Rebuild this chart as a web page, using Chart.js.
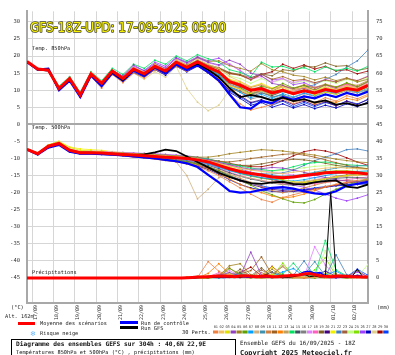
<!DOCTYPE html>
<html lang="fr">
<head>
<meta charset="UTF-8">
<title>GEFS 18Z - 40,6N 22,9E</title>
<script src="https://cdn.jsdelivr.net/npm/chart.js"></script>
<style>
    body { margin: 0; background: #ffffff; }
    #wrap { width: 395px; height: 355px; }
</style>
</head>
<body>
<div id="wrap"><canvas id="chart" width="395" height="355"></canvas></div>
<script>
// time axis (hours after 16/09 18Z)
const HOURS_12 = [0,12,24,36,48,60,72,84,96,108,120,132,144,156,168,180,192,204,216,228,240,252,264,276,288,300,312,324,336,348,360,372,384];
const HOURS_6 = [0,6,12,18,24,30,36,42,48,54,60,66,72,78,84,90,96,102,108,114,120,126,132,138,144,150,156,162,168,174,180,186,192,198,204,210,216,222,228,234,240,246,252,258,264,270,276,282,288,294,300,306,312,318,324,330,336,342,348,354,360,366,372,378,384];
const HOURS_RR = [168,180,192,204,216,228,240,252,264,276,288,300,312,324,336,348,360,372,384];
const DAY_HOURS = [6,30,54,78,102,126,150,174,198,222,246,270,294,318,342,366];
const DAY_LABELS = ['17/09','18/09','19/09','20/09','21/09','22/09','23/09','24/09','25/09','26/09','27/09','28/09','29/09','30/09','01/10','02/10'];
const LEFT_TICKS = [30,25,20,15,10,5,0,-5,-10,-15,-20,-25,-30,-35,-40,-45];
const RIGHT_TICKS = [75,70,65,60,55,50,45,40,35,30,25,20,15,10,5,0];

const MEMBER_COLORS = ['#f08040','#f0c060','#e0e000','#9040c0','#a08020','#60a000','#00a0ff','#d0b080','#4090b0','#d08040',
    '#a06020','#ff8000','#c0a060','#00e060','#405060','#808080','#e080ff','#ff60c0','#806020','#400080',
    '#f0f000','#4080c0','#a06040','#c0ff80','#80e000','#a040ff','#0000c0','#e0d090','#a00000','#0040ff'];

// Temp. 850hPa (°C)
const T850_MEAN = [18.4,16.2,15.9,10.5,13.4,8.6,14.8,12.0,15.6,13.4,16.2,14.8,17.0,15.6,18.2,16.7,18.3,16.7,15.4,12.5,11.5,10.0,10.5,9.2,10.0,9.0,9.8,9.2,10.2,9.6,10.5,10.0,11.4];
const T850_CTRL = [18.2,16.0,16.3,10.0,12.8,8.0,14.3,11.2,15.0,12.8,15.8,14.2,16.6,14.9,17.5,15.9,17.4,15.3,12.8,8.8,5.0,4.6,6.8,6.2,8.0,7.2,8.2,7.6,8.8,8.0,9.2,8.4,9.6];
const T850_GFS = [18.3,16.1,16.0,10.3,13.2,8.4,14.6,11.8,15.3,13.0,16.0,14.6,16.8,15.4,18.0,16.5,17.8,16.0,13.8,10.6,8.0,8.6,8.0,7.0,7.8,6.8,7.4,6.4,7.0,5.8,6.2,5.4,6.2];
const T850_MEMBERS = [
    [18.3,16.0,15.6,10.0,13.0,8.0,14.0,10.6,14.6,12.2,15.0,13.6,16.0,14.8,17.0,15.6,17.5,15.0,12.5,9.0,6.0,4.2,5.0,5.8,7.5,6.0,7.2,6.4,7.8,6.8,8.4,7.5,8.8],
    [18.5,16.4,16.2,11.0,13.8,9.2,15.2,12.6,15.9,13.8,16.6,15.2,17.5,16.0,18.8,17.2,19.0,17.6,16.4,14.0,12.6,11.0,11.8,10.2,11.0,10.0,10.8,9.8,10.6,10.0,11.2,10.4,12.0],
    [18.4,16.1,16.0,10.8,13.6,8.8,15.0,12.2,15.4,13.0,16.4,14.6,17.6,15.4,18.6,16.0,18.0,15.8,13.8,11.2,10.4,9.0,10.6,9.4,11.0,9.2,10.0,8.6,9.4,8.8,10.2,9.6,10.8],
    [18.4,16.3,16.1,10.2,13.2,8.4,14.6,11.8,15.8,14.2,17.4,15.6,17.8,16.4,19.4,18.0,19.6,18.2,17.4,18.8,17.6,15.0,14.2,12.0,11.4,10.2,10.6,9.4,10.0,9.2,10.4,9.8,11.0],
    [18.5,16.2,15.8,10.6,13.4,8.6,14.8,12.4,15.6,13.6,16.0,14.8,17.2,15.8,18.8,17.4,19.6,18.4,18.6,17.2,16.4,15.6,17.8,16.0,15.4,14.4,14.0,13.0,13.8,12.8,13.6,12.4,13.2],
    [18.4,16.0,15.9,10.4,13.3,8.2,14.4,11.6,15.2,13.2,16.0,14.4,16.6,15.0,17.6,16.0,17.8,16.2,15.0,12.2,11.0,9.6,11.2,10.4,12.0,10.6,11.4,10.0,11.6,10.8,12.2,11.0,12.6],
    [18.4,16.2,16.0,10.6,13.6,8.8,15.0,12.2,15.8,13.6,16.2,14.8,17.0,15.6,18.0,16.4,18.2,16.4,14.6,11.0,9.4,7.8,8.8,7.6,9.0,8.0,9.2,8.4,9.8,9.0,10.2,9.4,10.6],
    [18.3,16.1,15.7,10.4,13.2,8.5,14.5,11.9,15.3,13.1,15.9,14.3,16.5,15.1,17.4,15.8,17.6,15.6,14.0,11.6,10.2,8.4,9.6,8.8,10.4,9.4,10.6,9.6,10.8,10.0,11.0,10.4,11.8],
    [18.4,16.3,16.0,10.7,13.5,8.7,14.9,12.1,15.7,13.5,16.3,14.9,17.1,15.7,18.3,16.8,18.5,16.9,15.6,12.4,10.8,9.0,9.4,8.0,8.6,7.4,8.2,7.6,8.6,8.0,9.2,8.6,10.0],
    [18.4,16.2,16.0,10.5,13.4,8.6,14.8,12.0,15.6,13.4,16.2,14.8,17.0,15.6,18.2,16.7,18.3,16.5,15.4,13.0,12.0,10.8,11.6,10.4,11.2,10.6,11.6,10.8,11.8,11.0,12.0,11.4,12.8],
    [18.5,16.3,16.1,10.9,13.7,9.0,15.1,12.4,15.9,13.8,16.5,15.1,17.4,16.0,18.6,17.0,18.7,17.2,16.2,14.8,14.4,13.0,14.6,13.2,14.0,12.8,13.2,12.2,13.0,12.4,13.4,12.8,14.0],
    [18.3,16.0,15.7,10.2,13.1,8.3,14.5,11.4,15.2,12.8,15.6,14.0,16.4,14.8,17.6,16.0,17.6,15.6,13.4,10.4,9.6,8.6,10.0,8.0,8.8,6.6,7.4,6.0,7.0,6.4,7.6,7.0,8.4],
    [18.4,16.2,15.9,10.6,13.4,8.7,14.8,12.1,15.5,13.3,16.1,14.7,16.9,15.5,18.0,16.6,18.1,16.6,15.2,12.8,11.8,10.4,11.0,9.6,10.2,9.2,10.0,9.4,10.4,9.8,10.8,10.2,11.4],
    [18.5,16.4,16.3,11.2,14.0,9.4,15.4,12.8,16.4,14.6,17.6,16.4,18.8,17.6,20.0,18.6,20.4,19.2,18.2,16.0,15.2,14.0,18.2,16.8,17.0,16.0,16.6,15.4,16.8,15.8,16.4,15.6,17.0],
    [18.4,16.1,15.8,10.3,13.2,8.4,14.6,11.8,15.4,13.2,16.0,14.6,16.8,15.4,18.0,16.4,18.0,16.0,14.2,11.0,9.8,8.2,9.2,8.4,9.6,8.8,9.8,9.0,10.0,9.4,10.4,9.8,11.0],
    [18.4,16.2,15.9,10.5,13.4,8.6,14.8,12.0,15.6,13.4,16.2,14.8,17.0,15.6,18.2,16.7,18.3,16.4,14.4,10.8,9.4,7.4,8.2,7.2,8.4,7.8,9.0,8.2,9.4,8.8,9.8,9.2,10.2],
    [18.5,16.3,16.1,10.8,13.6,8.8,15.0,12.3,15.8,13.7,16.8,15.4,17.8,16.6,19.2,17.8,19.4,18.0,17.2,17.8,15.6,13.2,14.0,12.4,13.4,12.2,13.0,12.0,13.2,12.4,13.6,12.8,14.2],
    [18.4,16.2,15.9,10.5,13.4,8.6,14.8,12.0,15.6,13.4,16.0,14.6,16.8,15.4,18.0,16.4,17.8,15.8,14.0,11.4,10.6,9.2,10.2,9.0,10.2,9.6,10.8,10.2,11.4,10.6,11.6,10.8,12.2],
    [18.4,16.2,16.0,10.7,13.5,8.8,15.0,12.2,15.8,13.6,16.4,15.0,17.4,16.0,18.6,17.2,18.8,17.4,16.6,15.2,14.6,13.6,14.8,14.2,16.0,15.6,17.0,16.8,18.0,17.0,17.2,15.8,16.4],
    [18.3,16.0,15.6,10.1,13.0,8.2,14.3,11.5,15.0,12.8,15.6,14.2,16.4,15.0,17.4,15.8,17.2,15.0,13.0,10.0,8.4,6.4,7.2,6.0,7.0,5.8,6.8,5.6,6.6,5.4,6.8,5.8,7.4],
    [18.4,16.2,15.9,10.5,13.5,8.7,14.9,12.1,15.7,13.5,16.3,15.0,17.2,15.8,18.4,16.9,18.6,16.9,15.6,13.2,12.4,11.0,12.0,10.6,11.6,10.2,11.0,10.0,11.0,10.2,11.4,10.6,11.8],
    [18.4,16.1,15.8,10.4,13.3,8.5,14.7,11.9,15.5,13.2,15.8,14.4,16.6,15.2,17.6,16.0,17.8,16.0,14.6,11.8,10.6,9.0,10.0,8.8,10.0,9.4,10.8,11.6,13.2,14.6,16.8,18.6,21.8],
    [18.4,16.2,15.9,10.5,13.4,8.6,14.8,12.0,15.6,13.4,16.1,14.7,16.9,15.5,18.1,16.6,18.2,16.6,15.4,12.6,11.4,10.0,10.6,9.8,11.2,10.4,11.4,10.6,11.6,10.8,11.8,11.0,12.4],
    [18.5,16.3,16.1,10.8,13.6,8.9,15.1,12.3,15.9,13.7,16.5,15.1,17.4,16.0,18.6,17.1,18.7,17.1,16.2,14.2,13.4,12.0,13.4,12.2,13.2,12.0,12.8,11.8,12.8,12.0,13.2,12.4,13.6],
    [18.4,16.2,15.9,10.6,13.4,8.7,14.8,12.1,15.6,13.4,16.2,14.8,17.0,15.6,18.2,16.7,18.2,16.4,14.8,11.6,10.4,8.8,9.8,8.6,9.8,9.0,10.2,9.4,10.6,9.8,10.8,10.2,11.2],
    [18.5,16.4,16.2,11.0,13.8,9.2,15.2,12.6,16.0,14.0,17.0,15.8,18.2,17.0,19.6,18.2,19.8,18.6,19.4,17.6,15.8,13.6,14.8,13.0,13.4,11.6,12.2,10.8,11.6,10.4,11.2,10.0,10.8],
    [18.3,16.0,15.6,10.0,13.0,8.0,14.2,11.4,14.8,12.6,15.2,13.8,16.0,14.4,17.0,15.4,17.0,15.0,12.8,9.4,7.6,5.6,6.4,5.0,6.0,4.8,5.8,4.6,5.6,4.8,6.0,5.2,6.6],
    [18.4,16.1,15.8,10.4,13.2,8.3,14.4,11.4,14.6,12.4,15.0,13.2,15.4,13.8,17.0,10.5,6.5,4.0,5.6,10.0,10.6,9.0,10.0,8.8,10.0,9.0,9.8,9.2,10.2,9.6,10.4,9.8,11.0],
    [18.4,16.2,16.0,10.6,13.5,8.8,15.0,12.2,15.8,13.6,16.4,15.0,17.2,15.8,18.4,17.0,18.6,17.0,16.4,15.0,14.4,13.2,14.6,15.4,17.6,16.4,17.4,16.2,17.0,15.6,16.0,14.8,15.6],
    [18.3,16.0,15.7,10.2,13.1,8.3,14.5,11.6,15.2,13.0,15.6,14.0,16.2,14.8,17.2,15.6,17.2,15.4,13.2,9.8,8.0,6.2,7.0,5.6,6.8,5.2,6.4,5.2,6.4,5.6,6.8,6.0,7.2]
];

// Temp. 500hPa (°C)
const T500_MEAN = [-7.3,-8.6,-6.4,-5.6,-7.6,-8.3,-8.3,-8.4,-8.6,-8.8,-9.0,-9.2,-9.4,-9.6,-9.8,-10.0,-10.4,-11.0,-12.0,-13.0,-13.8,-14.4,-14.8,-15.4,-15.6,-15.4,-15.0,-14.6,-14.2,-14.0,-14.0,-14.2,-14.5];
const T500_CTRL = [-7.4,-8.8,-6.8,-6.0,-8.0,-8.6,-8.6,-8.7,-8.9,-9.1,-9.4,-9.7,-10.0,-10.4,-10.8,-11.4,-12.5,-14.8,-17.0,-19.5,-20.0,-19.8,-19.2,-18.6,-18.4,-18.8,-19.6,-20.2,-20.5,-19.6,-18.0,-17.4,-16.8];
const T500_GFS = [-7.3,-8.6,-6.4,-5.6,-7.6,-8.3,-8.3,-8.4,-8.6,-8.8,-9.0,-8.8,-8.2,-7.4,-7.8,-9.4,-11.0,-12.6,-14.2,-15.4,-16.4,-17.2,-17.4,-17.0,-16.8,-17.4,-17.6,-17.0,-16.6,-16.4,-18.2,-18.6,-17.6];
const T500_MEMBERS = [
    [-7.4,-8.8,-6.6,-5.8,-7.8,-8.6,-8.6,-8.8,-9.0,-9.2,-9.6,-9.8,-10.2,-10.6,-11.0,-11.6,-12.4,-13.6,-15.0,-16.8,-18.6,-20.4,-22.0,-22.8,-21.4,-20.6,-19.8,-19.0,-18.2,-17.6,-17.0,-16.4,-16.0],
    [-7.2,-8.4,-6.2,-5.2,-7.2,-8.0,-8.0,-8.1,-8.3,-8.5,-8.7,-8.8,-9.0,-9.2,-9.4,-9.6,-10.0,-10.6,-11.4,-12.2,-12.8,-13.4,-13.8,-14.2,-14.4,-14.0,-13.6,-13.2,-12.8,-12.6,-12.8,-13.0,-13.2],
    [-7.3,-8.5,-6.0,-5.0,-6.8,-7.6,-7.8,-8.0,-8.4,-8.6,-8.8,-9.0,-9.2,-9.4,-9.6,-9.8,-10.2,-10.8,-11.6,-12.6,-13.4,-14.2,-14.8,-15.6,-16.2,-16.8,-17.0,-16.6,-16.0,-15.4,-15.0,-14.8,-14.6],
    [-7.3,-8.7,-6.5,-5.7,-7.7,-8.4,-8.4,-8.5,-8.7,-8.9,-9.1,-9.3,-9.4,-9.5,-9.6,-9.8,-10.0,-10.4,-11.2,-11.8,-12.6,-13.2,-13.0,-12.6,-12.8,-13.4,-14.0,-14.8,-15.6,-16.2,-16.6,-16.8,-17.0],
    [-7.2,-8.6,-6.4,-5.6,-7.5,-8.2,-8.1,-8.2,-8.3,-8.4,-8.5,-8.6,-8.8,-9.0,-9.2,-9.4,-9.6,-9.6,-9.2,-8.6,-8.2,-7.8,-7.4,-7.6,-7.8,-8.2,-8.6,-9.0,-9.6,-10.2,-10.6,-11.0,-11.2],
    [-7.3,-8.6,-6.4,-5.6,-7.6,-8.3,-8.3,-8.5,-8.8,-9.0,-9.3,-9.6,-9.9,-10.2,-10.6,-11.0,-11.6,-12.4,-13.6,-15.0,-16.4,-17.8,-19.4,-20.6,-21.8,-22.8,-23.0,-22.0,-20.4,-19.0,-17.8,-16.8,-16.0],
    [-7.4,-8.7,-6.6,-5.8,-7.8,-8.5,-8.5,-8.6,-8.8,-9.0,-9.2,-9.4,-9.6,-9.8,-10.0,-10.3,-10.8,-11.6,-12.6,-13.6,-14.4,-15.0,-15.6,-16.0,-16.4,-16.6,-16.2,-15.6,-15.0,-14.4,-14.0,-13.8,-13.6],
    [-7.3,-8.6,-6.4,-5.6,-7.6,-8.3,-8.3,-8.4,-8.6,-8.8,-9.0,-9.2,-9.6,-10.0,-11.0,-15.0,-21.8,-19.0,-15.6,-14.8,-15.2,-15.8,-16.4,-17.0,-17.6,-17.2,-16.6,-16.2,-15.8,-15.4,-15.2,-15.0,-14.8],
    [-7.3,-8.5,-6.3,-5.5,-7.5,-8.2,-8.2,-8.3,-8.5,-8.7,-8.9,-9.1,-9.3,-9.5,-9.7,-9.9,-10.2,-10.8,-11.8,-12.8,-13.6,-14.2,-14.6,-15.0,-15.2,-15.0,-14.6,-14.0,-13.4,-12.8,-12.4,-12.2,-12.0],
    [-7.4,-8.8,-6.8,-6.0,-8.0,-8.6,-8.6,-8.7,-8.9,-9.1,-9.4,-9.7,-10.0,-10.3,-10.6,-11.0,-11.6,-12.4,-13.4,-14.6,-15.8,-17.0,-18.2,-19.4,-20.0,-19.4,-18.6,-17.8,-17.0,-16.6,-16.4,-16.6,-17.0],
    [-7.2,-8.4,-6.2,-5.4,-7.4,-8.1,-8.1,-8.2,-8.4,-8.6,-8.8,-9.0,-9.2,-9.4,-9.6,-9.8,-10.0,-10.4,-10.8,-11.0,-10.6,-10.0,-9.6,-9.2,-8.8,-8.6,-9.0,-9.6,-10.4,-11.2,-12.0,-12.6,-13.0],
    [-7.3,-8.6,-6.4,-5.6,-7.6,-8.3,-8.4,-8.5,-8.7,-8.9,-9.2,-9.5,-9.8,-10.2,-10.6,-11.2,-12.0,-13.0,-14.4,-16.0,-17.6,-18.8,-20.0,-21.0,-21.6,-21.2,-20.4,-19.4,-18.4,-17.6,-17.0,-16.8,-16.6],
    [-7.3,-8.6,-6.5,-5.7,-7.7,-8.4,-8.4,-8.5,-8.7,-8.9,-9.1,-9.3,-9.5,-9.7,-9.9,-10.1,-10.5,-11.1,-12.1,-13.1,-13.9,-14.5,-14.9,-15.5,-15.7,-15.5,-15.1,-14.7,-14.3,-14.1,-14.1,-14.3,-14.6],
    [-7.2,-8.5,-6.3,-5.5,-7.4,-8.1,-8.1,-8.2,-8.4,-8.5,-8.7,-8.8,-9.0,-9.1,-9.3,-9.4,-9.7,-10.2,-10.8,-11.6,-12.2,-12.8,-13.2,-13.6,-13.2,-12.4,-11.6,-11.2,-11.0,-11.4,-11.8,-12.0,-12.2],
    [-7.3,-8.7,-6.5,-5.7,-7.7,-8.4,-8.4,-8.6,-8.8,-9.0,-9.3,-9.6,-9.9,-10.2,-10.5,-10.8,-11.3,-12.0,-13.0,-14.2,-15.2,-16.0,-16.6,-17.2,-17.6,-17.8,-17.4,-16.8,-16.2,-15.8,-15.6,-15.6,-15.8],
    [-7.3,-8.6,-6.4,-5.6,-7.6,-8.3,-8.3,-8.4,-8.6,-8.8,-9.0,-9.2,-9.4,-9.6,-9.8,-10.0,-10.3,-10.9,-11.9,-12.9,-13.7,-14.3,-14.7,-15.3,-15.5,-15.3,-14.9,-14.5,-14.1,-13.9,-13.9,-14.1,-14.4],
    [-7.2,-8.4,-6.1,-5.2,-7.2,-7.9,-7.8,-7.9,-8.1,-8.2,-8.4,-8.6,-8.8,-9.0,-9.2,-9.4,-9.8,-10.4,-11.2,-12.0,-12.6,-13.2,-13.6,-14.0,-14.4,-14.8,-15.2,-15.6,-15.8,-15.6,-15.2,-14.8,-14.4],
    [-7.4,-8.8,-6.7,-5.9,-7.9,-8.6,-8.6,-8.7,-8.9,-9.1,-9.3,-9.5,-9.7,-9.9,-10.1,-10.4,-10.9,-11.6,-12.8,-14.0,-15.0,-15.8,-16.4,-17.0,-17.4,-17.6,-17.6,-17.4,-17.0,-16.6,-16.2,-15.8,-15.4],
    [-7.3,-8.6,-6.4,-5.6,-7.6,-8.3,-8.3,-8.4,-8.6,-8.8,-9.0,-9.2,-9.4,-9.6,-9.8,-10.0,-10.3,-10.8,-11.4,-11.8,-12.0,-12.0,-11.6,-11.0,-10.6,-10.2,-10.4,-10.8,-11.4,-12.0,-12.4,-12.8,-13.0],
    [-7.4,-8.8,-6.8,-6.0,-8.0,-8.7,-8.7,-8.8,-9.0,-9.2,-9.5,-9.8,-10.1,-10.5,-10.9,-11.4,-12.0,-12.8,-14.0,-15.4,-16.6,-17.6,-18.4,-19.0,-19.4,-19.6,-19.4,-19.0,-18.4,-17.8,-17.2,-16.8,-16.4],
    [-7.1,-8.3,-6.0,-5.0,-6.6,-7.2,-7.4,-7.6,-8.0,-8.3,-8.6,-8.9,-9.2,-9.5,-9.8,-10.1,-10.5,-11.1,-12.0,-13.0,-13.8,-14.4,-14.8,-15.2,-15.4,-15.2,-14.8,-14.4,-14.0,-13.8,-13.8,-14.0,-14.2],
    [-7.3,-8.6,-6.4,-5.6,-7.6,-8.3,-8.3,-8.5,-8.7,-8.9,-9.1,-9.4,-9.7,-10.0,-10.3,-10.6,-11.0,-11.6,-12.4,-13.2,-13.8,-14.2,-14.4,-14.6,-14.2,-13.4,-12.0,-10.6,-9.6,-8.6,-7.4,-7.2,-7.8],
    [-7.3,-8.7,-6.6,-5.8,-7.8,-8.5,-8.5,-8.6,-8.8,-9.0,-9.2,-9.4,-9.6,-9.8,-10.0,-10.3,-10.8,-11.4,-12.4,-13.4,-14.2,-15.0,-15.6,-16.2,-16.8,-17.2,-17.0,-16.4,-15.8,-15.2,-14.8,-14.6,-14.4],
    [-7.2,-8.5,-6.3,-5.5,-7.5,-8.2,-8.2,-8.3,-8.5,-8.7,-8.9,-9.1,-9.3,-9.5,-9.7,-9.9,-10.2,-10.7,-11.5,-12.3,-12.9,-13.3,-13.5,-13.7,-13.5,-13.1,-12.7,-12.3,-12.1,-12.1,-12.3,-12.6,-12.9],
    [-7.3,-8.6,-6.4,-5.6,-7.6,-8.3,-8.3,-8.4,-8.6,-8.8,-9.0,-9.2,-9.4,-9.6,-9.8,-10.0,-10.4,-11.0,-12.2,-13.4,-14.4,-15.2,-15.8,-16.2,-16.0,-15.4,-14.8,-14.2,-13.8,-13.6,-13.6,-13.8,-14.0],
    [-7.2,-8.4,-6.2,-5.4,-7.4,-8.1,-8.0,-8.0,-8.2,-8.3,-8.4,-8.5,-8.6,-8.8,-9.0,-9.2,-9.6,-10.2,-11.0,-12.0,-13.0,-14.0,-15.0,-16.0,-17.0,-17.8,-18.4,-19.2,-20.4,-21.6,-22.4,-21.6,-20.6],
    [-7.4,-8.8,-6.7,-5.9,-7.9,-8.6,-8.6,-8.7,-8.9,-9.1,-9.4,-9.7,-10.0,-10.4,-10.8,-11.4,-12.2,-13.2,-14.6,-16.2,-17.6,-18.6,-19.2,-19.6,-19.8,-19.6,-19.2,-18.8,-18.4,-18.0,-17.8,-17.6,-17.4],
    [-7.3,-8.6,-6.4,-5.6,-7.6,-8.3,-8.3,-8.4,-8.6,-8.8,-9.0,-9.2,-9.4,-9.6,-9.8,-10.0,-10.3,-10.9,-11.9,-12.9,-13.7,-14.3,-14.7,-15.3,-15.5,-15.3,-14.9,-14.5,-14.1,-13.9,-13.9,-14.1,-14.4],
    [-7.3,-8.6,-6.4,-5.6,-7.6,-8.3,-8.3,-8.4,-8.6,-8.8,-9.0,-9.2,-9.3,-9.4,-9.5,-9.6,-9.8,-10.2,-10.8,-11.4,-12.0,-12.4,-12.4,-11.8,-10.6,-9.2,-8.0,-7.4,-7.8,-8.6,-9.8,-11.0,-12.0],
    [-7.4,-8.7,-6.6,-5.8,-7.8,-8.5,-8.5,-8.6,-8.8,-9.0,-9.3,-9.6,-9.9,-10.2,-10.6,-11.0,-11.6,-12.4,-13.6,-15.0,-16.2,-17.2,-18.0,-18.6,-19.0,-19.2,-19.0,-18.6,-18.2,-17.8,-17.6,-17.4,-17.2]
];

// Précipitations (mm), 6h steps for mean / control / GFS
const RR_MEAN = [0,0,0,0,0,0,0,0,0,0,0,0,0,0,0,0,0,0,0,0,0,0,0,0,0,0,0,0,0,0,
    0.1,0.2,0.3,0.3,0.4,0.5,0.5,0.6,0.5,0.4,0.6,0.7,0.5,0.4,0.5,0.6,0.4,0.4,0.6,0.7,0.8,0.9,1.2,1.3,1.0,0.7,0.5,0.4,0.5,0.6,0.5,0.4,0.4,0.3,0.3];
const RR_CTRL = [0,0,0,0,0,0,0,0,0,0,0,0,0,0,0,0,0,0,0,0,0,0,0,0,0,0,0,0,0,0,
    0,0.1,0.2,0.3,0.2,0.4,0.3,0.2,0.3,0.5,0.4,0.3,0.2,0.3,0.4,0.3,0.2,0.3,0.4,0.5,0.6,1.0,1.8,2.0,1.4,1.6,0.6,0.4,0.3,0.4,0.2,0.3,0.8,0.4,0.2];
const RR_GFS = [0,0,0,0,0,0,0,0,0,0,0,0,0,0,0,0,0,0,0,0,0,0,0,0,0,0,0,0,0,0,
    0,0,0.1,0.2,0.1,0.3,0.2,0.4,0.2,0.3,0.2,0.6,0.4,0.2,0.6,1.0,0.4,0.2,0.3,0.2,0.4,0.8,1.2,0.4,0.6,0.3,0.4,25.0,0.6,0.3,0.2,0.4,2.6,0.4,0.3];
// members, 12h steps from 23/09 18Z
const RR_MEMBERS = [
    [0,0,0.2,4.8,2.0,0.4,0.8,0.2,0,0.3,0.6,0.2,0,0.4,0.8,0.3,0.2,0.4,0.2],
    [0,0,0,0.3,0.6,1.2,0.4,0.2,0,0,0.3,0.8,0.4,0.2,0,0.6,0.2,0,0.1],
    [0,0.2,0,0,0.3,0.8,0.2,0,0.4,1.0,0.3,0,0.2,0.6,1.4,0.4,0,0.3,0.2],
    [0,0,0.3,0.2,0.8,1.6,0.6,7.6,0.8,0.4,0.2,0,0.3,0.5,0.2,0,0.4,0.2,0.1],
    [0,0,0,0.2,0.5,3.6,4.2,1.0,0.3,2.6,0.4,0.2,0,0.3,0,0.2,0.6,0.2,0],
    [0,0,0.2,0,0.4,2.8,1.2,0.3,0,0.2,0.8,0.4,0.2,0,0.5,0.3,0,0.2,0.1],
    [0,0.1,0,0.3,0.2,0.6,1.4,0.4,0.2,0.6,1.8,2.8,0.6,0.2,1.0,2.0,0.4,0.2,0.1],
    [0,0,0,0.2,0.8,0.4,1.0,0.2,0.6,1.2,3.6,0.8,0.4,0.2,0.4,0.8,0.3,0.2,0.1],
    [0,0,0.4,0.2,0,0.3,0.6,0.2,0,0.4,0.3,0.6,1.0,4.8,0.6,0.2,0.4,0.3,0.2],
    [0,0,0,0.3,1.0,3.0,0.6,0.4,1.6,0.3,0,0.2,0.4,0.2,0.6,0.3,0,0.2,0.1],
    [0,0,0.2,0.4,0.6,0.8,1.2,2.2,6.2,1.0,3.4,0.6,0.2,0.3,0.4,0.2,0.6,0.3,0.2],
    [0,0.2,0,1.4,4.2,1.2,0.6,0.8,0.4,0.2,0.6,0.3,0.2,0.4,0.6,0.3,0.2,0.4,0.2],
    [0,0,0,0.2,0.3,0.6,2.0,0.4,0.2,0.8,0.4,0.2,0.6,0.3,0.2,1.2,0.4,0.2,0.1],
    [0,0,0.2,0.3,0.6,1.4,0.4,0.2,0.6,0.4,1.2,4.4,0.6,0.8,11.0,2.4,0.6,0.4,0.2],
    [0,0,0,0.3,0.2,0.6,0.4,0.2,0.6,1.8,0.4,0.2,0.4,0.6,0.3,0.2,0.6,0.3,0.2],
    [0,0,0.2,0,0.4,0.2,0.6,0.3,0.2,0.4,0.8,0.3,0.2,0.4,0.6,0.2,0.3,0.2,0.1],
    [0,0,0,0.4,0.8,2.2,0.6,0.4,0.2,0.8,0.6,0.3,0.4,9.2,3.8,0.6,0.4,0.2,0.6],
    [0,0,0.2,0.3,1.6,0.4,0.2,0.6,0.4,0.2,0.6,0.3,1.4,0.6,0.4,0.3,0.2,0.4,0.2],
    [0,0,0,0.2,0.6,0.3,2.6,0.6,3.0,0.4,0.2,0.6,0.3,0.4,0.8,0.3,0.2,0.6,0.3],
    [0,0,0.2,0.3,0.4,0.6,0.3,0.8,0.4,0.2,0.6,0.4,0.2,0.8,2.0,0.6,0.4,0.3,0.2],
    [0,0,0,0.2,0.4,0.8,0.3,0.2,0.6,3.2,0.8,0.4,0.2,1.0,0.6,0.3,0.2,0.6,0.2],
    [0,0,0.2,0.4,0.2,0.6,0.4,0.3,0.2,0.4,0.6,0.8,5.0,0.6,0.4,6.8,1.0,0.4,0.2],
    [0,0,0,0.2,0.6,0.4,0.8,0.3,2.4,0.6,0.3,0.2,0.4,0.3,0.6,0.2,0.4,2.2,0.3],
    [0,0,0.2,0.3,0.4,0.6,0.3,0.2,0.4,0.6,0.8,0.3,0.4,0.6,8.0,1.0,0.6,0.4,4.0],
    [0,0,0,0.2,0.3,0.4,0.6,0.3,0.2,0.4,4.4,0.6,0.3,2.4,6.0,0.6,0.4,0.3,0.2],
    [0,0,0.2,0.3,0.6,0.4,1.0,0.3,0.2,0.6,0.4,0.3,0.8,1.6,0.6,0.4,0.3,1.8,0.4],
    [0,0,0,0.2,0.3,0.4,0.2,0.6,0.3,0.2,0.8,0.3,0.6,0.4,1.2,0.3,0.2,0.4,0.2],
    [0,0.3,0.6,0.8,0.4,0.3,0.6,0.4,0.8,0.4,3.8,0.6,0.3,0.4,0.6,0.3,0.2,0.4,0.3],
    [0,0,0.2,0.4,1.0,0.6,1.6,3.2,0.6,3.4,0.8,0.4,0.2,0.3,0.4,0.6,0.2,0.3,0.2],
    [0,0,0,0.3,0.6,0.4,0.8,0.3,0.6,0.4,0.3,0.6,0.8,0.4,0.6,0.3,0.4,2.6,0.8]
];

const TITLE = 'GFS-18Z-UPD: 17-09-2025 05:00';
const MONO = '"DejaVu Sans Mono", "Liberation Mono", monospace';

function pts(hours, vals) {
    return vals.map((v, i) => ({ x: hours[i], y: v }));
}

function member(data, color, axis) {
    return {
        data: data,
        yAxisID: axis,
        borderColor: color,
        backgroundColor: color,
        borderWidth: 0.8,
        pointRadius: 0.9,
        pointBorderWidth: 0,
        order: 10
    };
}

const datasets = [];
datasets.push({ data: pts(HOURS_12, T850_MEAN), yAxisID: 'y', borderColor: '#ff0000', borderWidth: 3, pointRadius: 0, order: 0 });
datasets.push({ data: pts(HOURS_12, T500_MEAN), yAxisID: 'y', borderColor: '#ff0000', borderWidth: 3, pointRadius: 0, order: 0 });
datasets.push({ data: pts(HOURS_6, RR_MEAN), yAxisID: 'y2', borderColor: '#ff0000', borderWidth: 3, pointRadius: 0, order: 0 });
datasets.push({ data: pts(HOURS_12, T850_GFS), yAxisID: 'y', borderColor: '#000000', borderWidth: 1.8, pointRadius: 0, order: 1 });
datasets.push({ data: pts(HOURS_12, T500_GFS), yAxisID: 'y', borderColor: '#000000', borderWidth: 1.8, pointRadius: 0, order: 1 });
datasets.push({ data: pts(HOURS_6, RR_GFS), yAxisID: 'y2', borderColor: '#000000', borderWidth: 1, pointRadius: 0, order: 1 });
datasets.push({ data: pts(HOURS_12, T850_CTRL), yAxisID: 'y', borderColor: '#0000ff', borderWidth: 2.2, pointRadius: 0, order: 2 });
datasets.push({ data: pts(HOURS_12, T500_CTRL), yAxisID: 'y', borderColor: '#0000ff', borderWidth: 2.2, pointRadius: 0, order: 2 });
datasets.push({ data: pts(HOURS_6, RR_CTRL), yAxisID: 'y2', borderColor: '#0000ff', borderWidth: 1.5, pointRadius: 0, order: 2 });
for (let m = 0; m < 30; m++) {
    datasets.push(member(pts(HOURS_12, T850_MEMBERS[m]), MEMBER_COLORS[m], 'y'));
    datasets.push(member(pts(HOURS_12, T500_MEMBERS[m]), MEMBER_COLORS[m], 'y'));
    datasets.push(member(pts(HOURS_RR, RR_MEMBERS[m]), MEMBER_COLORS[m], 'y2'));
}

// texts, legend and caption around the plot
const decorations = {
    id: 'decorations',
    afterDraw(chart) {
        const c = chart.ctx;
        c.save();
        c.textBaseline = 'alphabetic';
        c.textAlign = 'left';

        // title
        c.save();
        c.translate(30, 31.5);
        c.scale(0.95, 1);
        c.font = '14px "DejaVu Sans Condensed", "Liberation Sans Narrow", sans-serif';
        c.lineJoin = 'round';
        c.lineWidth = 1.6;
        c.strokeStyle = '#4a4a2a';
        c.strokeText(TITLE, 0, 0);
        c.fillStyle = '#f6f000';
        c.fillText(TITLE, 0, 0);
        c.restore();

        c.fillStyle = '#222222';
        c.font = '5.3px ' + MONO;
        c.fillText('Temp. 850hPa', 32, 50);
        c.fillText('Temp. 500hPa', 32, 129);
        c.fillText('Précipitations', 32, 274);
        c.fillText('(°C)', 11, 309);
        c.fillText('Alt. 162m', 5, 318);
        c.fillText('(mm)', 377, 309);

        // legend
        c.fillStyle = '#ff0000';
        c.fillRect(18, 322, 17, 3);
        c.fillStyle = '#0000ff';
        c.fillRect(120, 321, 18, 3);
        c.fillStyle = '#000000';
        c.fillRect(120, 326, 18, 3);
        c.fillStyle = '#222222';
        c.fillText('Moyenne des scénarios', 40, 325);
        c.fillText('Run de contrôle', 141, 325);
        c.fillText('Run GFS', 141, 330);
        c.fillText('30 Perts.', 182, 334);
        c.fillText('Risque neige', 40, 335);
        c.fillStyle = '#66b8ff';
        c.font = '7px "DejaVu Sans", sans-serif';
        c.fillText('❄', 30, 336);

        // member swatches
        c.textAlign = 'center';
        c.font = '3.6px ' + MONO;
        for (let i = 0; i < 30; i++) {
            const x = 213 + i * 5.87;
            c.fillStyle = '#333333';
            c.fillText(String(i + 1).padStart(2, '0'), x + 2.8, 328);
            c.fillStyle = MEMBER_COLORS[i];
            c.fillRect(x, 330.5, 5.3, 3);
        }

        // caption box
        c.textAlign = 'left';
        c.strokeStyle = '#000000';
        c.lineWidth = 1;
        c.strokeRect(11.5, 339.5, 224, 17);
        c.fillStyle = '#111111';
        c.font = 'bold 6.2px ' + MONO;
        c.fillText('Diagramme des ensembles GEFS sur 304h : 40,6N 22,9E', 16, 346);
        c.font = '5.3px ' + MONO;
        c.fillText('Températures 850hPa et 500hPa (°C) , précipitations (mm)', 16, 353.5);
        c.font = '5.8px ' + MONO;
        c.fillText('Ensemble GEFS du 16/09/2025 - 18Z', 240, 344.5);
        c.font = 'bold 6.9px ' + MONO;
        c.fillText('Copyright 2025 Meteociel.fr', 240, 354.5);
        c.restore();
    }
};

new Chart(document.getElementById('chart'), {
    type: 'line',
    data: { datasets: datasets },
    plugins: [decorations],
    options: {
        responsive: false,
        animation: false,
        events: [],
        layout: { padding: 0 },
        plugins: { legend: { display: false }, title: { display: false }, tooltip: { enabled: false } },
        scales: {
            x: {
                type: 'linear',
                min: 0,
                max: 384,
                afterBuildTicks: s => { s.ticks = DAY_HOURS.map(v => ({ value: v })); },
                afterFit: s => { s.height = 52; },
                ticks: {
                    autoSkip: false,
                    minRotation: 90,
                    maxRotation: 90,
                    padding: 2,
                    labelOffset: 3,
                    color: '#333333',
                    font: { family: MONO, size: 5 },
                    callback: (v, i) => DAY_LABELS[i]
                },
                grid: { color: '#d6d6d6', lineWidth: 1, drawTicks: false },
                border: { color: '#a8a8a8', width: 2 }
            },
            y: {
                position: 'left',
                min: -52.3,
                max: 33.1,
                afterBuildTicks: s => { s.ticks = LEFT_TICKS.map(v => ({ value: v })); },
                afterFit: s => { s.width = 27; },
                ticks: {
                    padding: 7,
                    color: '#333333',
                    font: { family: MONO, size: 5.5 },
                    callback: v => String(v)
                },
                grid: {
                    drawTicks: false,
                    color: ctx => (ctx.tick && ctx.tick.value === 0) ? '#a8a8a8' : '#d6d6d6',
                    lineWidth: ctx => (ctx.tick && ctx.tick.value === 0) ? 2 : 1
                },
                border: { color: '#a8a8a8', width: 2 }
            },
            y2: {
                position: 'right',
                min: -7.3,
                max: 78.1,
                afterBuildTicks: s => { s.ticks = RIGHT_TICKS.map(v => ({ value: v })); },
                afterFit: s => { s.width = 27; },
                ticks: {
                    padding: 8,
                    color: '#333333',
                    font: { family: MONO, size: 5.5 },
                    callback: v => String(v)
                },
                grid: { drawOnChartArea: false, drawTicks: false },
                border: { color: '#a8a8a8', width: 2 }
            }
        }
    }
});
</script>
</body>
</html>
